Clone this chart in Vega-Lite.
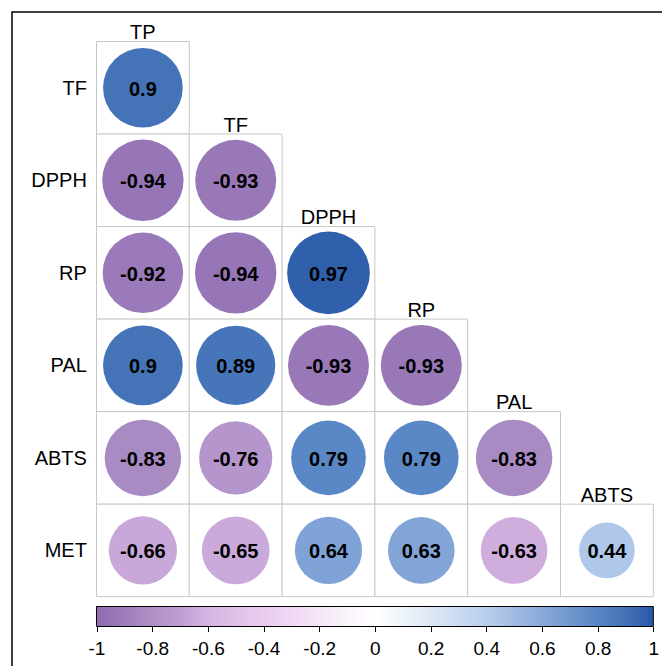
{
  "$schema": "https://vega.github.io/schema/vega-lite/v6.json",
  "width": 650,
  "height": 654,
  "autosize": "none",
  "padding": {"left": 12, "top": 12, "right": 0, "bottom": 0},
  "background": "white",
  "config": {"view": {"stroke": "black", "strokeWidth": 1.5, "strokeDash": [650, 1304, 654, 10]}},
  "datasets": {
    "cells": [
      {"row": "TF", "col": "TP", "r": 0.9},
      {"row": "DPPH", "col": "TP", "r": -0.94},
      {"row": "DPPH", "col": "TF", "r": -0.93},
      {"row": "RP", "col": "TP", "r": -0.92},
      {"row": "RP", "col": "TF", "r": -0.94},
      {"row": "RP", "col": "DPPH", "r": 0.97},
      {"row": "PAL", "col": "TP", "r": 0.9},
      {"row": "PAL", "col": "TF", "r": 0.89},
      {"row": "PAL", "col": "DPPH", "r": -0.93},
      {"row": "PAL", "col": "RP", "r": -0.93},
      {"row": "ABTS", "col": "TP", "r": -0.83},
      {"row": "ABTS", "col": "TF", "r": -0.76},
      {"row": "ABTS", "col": "DPPH", "r": 0.79},
      {"row": "ABTS", "col": "RP", "r": 0.79},
      {"row": "ABTS", "col": "PAL", "r": -0.83},
      {"row": "MET", "col": "TP", "r": -0.66},
      {"row": "MET", "col": "TF", "r": -0.65},
      {"row": "MET", "col": "DPPH", "r": 0.64},
      {"row": "MET", "col": "RP", "r": 0.63},
      {"row": "MET", "col": "PAL", "r": -0.63},
      {"row": "MET", "col": "ABTS", "r": 0.44}
    ],
    "rowlab": [
      {"row": "TF", "col": "TP"},
      {"row": "DPPH", "col": "TP"},
      {"row": "RP", "col": "TP"},
      {"row": "PAL", "col": "TP"},
      {"row": "ABTS", "col": "TP"},
      {"row": "MET", "col": "TP"}
    ],
    "collab": [
      {"col": "TP", "row": "TF"},
      {"col": "TF", "row": "DPPH"},
      {"col": "DPPH", "row": "RP"},
      {"col": "RP", "row": "PAL"},
      {"col": "PAL", "row": "ABTS"},
      {"col": "ABTS", "row": "MET"}
    ],
    "bar": [{"lo": -1, "hi": 1}]
  },
  "layer": [
    {
      "layer": [
        {
          "data": {"name": "cells"},
          "mark": {"type": "rect", "fill": "white", "stroke": "#C8C8C8", "strokeWidth": 1},
          "encoding": {
            "x": {"field": "col", "type": "nominal", "scale": {"domain": ["TP", "TF", "DPPH", "RP", "PAL", "ABTS"], "range": [84.5, 641.3], "paddingInner": 0, "paddingOuter": 0}, "axis": null},
            "y": {"field": "row", "type": "nominal", "scale": {"domain": ["TF", "DPPH", "RP", "PAL", "ABTS", "MET"], "range": [29.5, 584.7], "paddingInner": 0, "paddingOuter": 0}, "axis": null}
          }
        },
        {
          "data": {"name": "cells"},
          "transform": [{"calculate": "abs(datum.r)", "as": "absr"}],
          "mark": {"type": "point", "shape": "circle", "filled": true, "opacity": 1, "strokeWidth": 0},
          "encoding": {
            "x": {"field": "col", "type": "nominal"},
            "y": {"field": "row", "type": "nominal"},
            "color": {
              "field": "r",
              "type": "quantitative",
              "scale": {
                "domain": [-1, -0.9, -0.8, -0.7, -0.6, -0.4, -0.2, 0, 0.2, 0.4, 0.6, 0.8, 0.9, 1],
                "range": ["#8E6BB0", "#9D7EBC", "#AE90C7", "#BE9DD3", "#D6B5E2", "#EACBEF", "#F5E6F7", "#FFFFFF", "#DDE8F6", "#B9CEEC", "#89AADA", "#5785C4", "#4473B8", "#2858A7"],
                "interpolate": "rgb"
              },
              "legend": null
            },
            "size": {"field": "absr", "type": "quantitative", "scale": {"domain": [0, 1], "range": [0, 7050], "zero": true}, "legend": null}
          }
        },
        {
          "data": {"name": "cells"},
          "mark": {"type": "text", "font": "Liberation Sans", "fontWeight": "bold", "fontSize": 20, "color": "black", "align": "center", "baseline": "middle", "dy": 2},
          "encoding": {
            "x": {"field": "col", "type": "nominal"},
            "y": {"field": "row", "type": "nominal"},
            "text": {"field": "r", "type": "nominal"}
          }
        },
        {
          "data": {"name": "rowlab"},
          "mark": {"type": "text", "font": "Liberation Sans", "fontSize": 20, "color": "black", "align": "right", "baseline": "middle", "dx": -56, "dy": 1},
          "encoding": {
            "x": {"field": "col", "type": "nominal"},
            "y": {"field": "row", "type": "nominal"},
            "text": {"field": "row", "type": "nominal"}
          }
        },
        {
          "data": {"name": "collab"},
          "mark": {"type": "text", "font": "Liberation Sans", "fontSize": 20, "color": "black", "align": "center", "baseline": "alphabetic", "dy": -48.5},
          "encoding": {
            "x": {"field": "col", "type": "nominal"},
            "y": {"field": "row", "type": "nominal"},
            "text": {"field": "col", "type": "nominal"}
          }
        }
      ]
    },
    {
      "data": {"name": "bar"},
      "mark": {
        "type": "rect",
        "stroke": "black",
        "strokeWidth": 1,
        "fill": {
          "gradient": "linear", "x1": 0, "y1": 0, "x2": 1, "y2": 0,
          "stops": [
            {"offset": 0, "color": "#8E6BB0"},
            {"offset": 0.05, "color": "#9D7EBC"},
            {"offset": 0.1, "color": "#AE90C7"},
            {"offset": 0.15, "color": "#BE9DD3"},
            {"offset": 0.2, "color": "#D6B5E2"},
            {"offset": 0.3, "color": "#EACBEF"},
            {"offset": 0.4, "color": "#F5E6F7"},
            {"offset": 0.5, "color": "#FFFFFF"},
            {"offset": 0.6, "color": "#DDE8F6"},
            {"offset": 0.7, "color": "#B9CEEC"},
            {"offset": 0.8, "color": "#89AADA"},
            {"offset": 0.9, "color": "#5785C4"},
            {"offset": 0.95, "color": "#4473B8"},
            {"offset": 1, "color": "#2858A7"}
          ]
        }
      },
      "encoding": {
        "x": {
          "field": "lo",
          "type": "quantitative",
          "scale": {"domain": [-1, 1], "range": [84.5, 641.3], "nice": false, "zero": false},
          "axis": {
            "orient": "bottom",
            "offset": -39.5,
            "values": [-1, -0.8, -0.6, -0.4, -0.2, 0, 0.2, 0.4, 0.6, 0.8, 1],
            "labelExpr": "(datum.value < 0 ? '-' : '') + format(abs(datum.value), '~g')",
            "domain": false,
            "grid": false,
            "ticks": true,
            "tickSize": 5,
            "tickColor": "black",
            "tickWidth": 1,
            "labelFont": "Liberation Sans",
            "labelFontSize": 19,
            "labelColor": "black",
            "labelPadding": 8,
            "labelFlush": false,
            "labelOverlap": false,
            "title": null
          }
        },
        "x2": {"field": "hi"},
        "y": {"datum": 0, "type": "quantitative", "scale": {"domain": [0, 1], "range": [594.5, 614.5], "nice": false, "zero": false}, "axis": null},
        "y2": {"datum": 1}
      }
    }
  ],
  "resolve": {"scale": {"x": "independent", "y": "independent"}}
}
